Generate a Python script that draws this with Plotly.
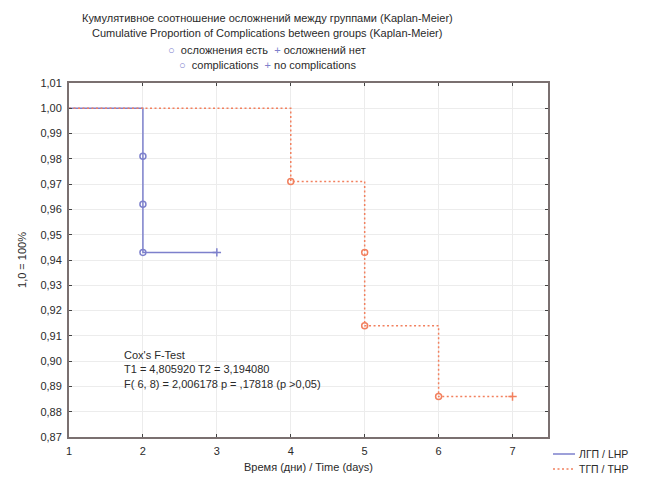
import plotly.graph_objects as go

# Data
lhp_time = [1, 2, 2, 2, 3]
lhp_surv = [1.0, 0.981, 0.962, 0.943, 0.943]
lhp_event_time = [2, 2, 2]
lhp_event_surv = [0.981, 0.962, 0.943]
lhp_cens_time = [3]
lhp_cens_surv = [0.943]

thp_time = [1, 4, 5, 5, 6, 7]
thp_surv = [1.0, 0.971, 0.943, 0.914, 0.886, 0.886]
thp_event_time = [4, 5, 5, 6]
thp_event_surv = [0.971, 0.943, 0.914, 0.886]
thp_cens_time = [7]
thp_cens_surv = [0.886]

x_ticks = [1, 2, 3, 4, 5, 6, 7]
y_ticks = [0.87, 0.88, 0.89, 0.90, 0.91, 0.92, 0.93, 0.94, 0.95, 0.96, 0.97, 0.98, 0.99, 1.00, 1.01]
series_names = ["ЛГП / LHP", "ТГП / THP"]

BLUE = "#7d80cc"
ORANGE = "#f2805e"
TXT = "#2a2a2a"
FONT = "Liberation Sans, Arial, sans-serif"
DOT = "2px,2.5px"

W, H = 646, 479
pl, pr, pt, pb = 69, 98, 83, 42
pw, ph = W - pl - pr, H - pt - pb

def px_x(px):
    return (px - pl) / pw

def px_y(py):
    return 1 - (py - pt) / ph

fig = go.Figure()
fig.add_trace(go.Scatter(x=lhp_time, y=lhp_surv, mode="lines", line_shape="hv",
                         line=dict(color=BLUE, width=1.5), name=series_names[0], showlegend=False))
fig.add_trace(go.Scatter(x=thp_time, y=thp_surv, mode="lines", line_shape="hv",
                         line=dict(color=ORANGE, width=1.5, dash=DOT), name=series_names[1], showlegend=False))
fig.add_trace(go.Scatter(x=lhp_event_time, y=lhp_event_surv, mode="markers", showlegend=False,
                         marker=dict(symbol="circle-open", size=6, color=BLUE, line=dict(width=1.5))))
fig.add_trace(go.Scatter(x=lhp_cens_time, y=lhp_cens_surv, mode="markers", showlegend=False,
                         marker=dict(symbol="cross-thin-open", size=6, color=BLUE, line=dict(width=1.5, color=BLUE))))
fig.add_trace(go.Scatter(x=thp_event_time, y=thp_event_surv, mode="markers", showlegend=False,
                         marker=dict(symbol="circle-open", size=6, color=ORANGE, line=dict(width=1.5))))
fig.add_trace(go.Scatter(x=thp_cens_time, y=thp_cens_surv, mode="markers", showlegend=False,
                         marker=dict(symbol="cross-thin-open", size=6, color=ORANGE, line=dict(width=1.5, color=ORANGE))))

axis_common = dict(showline=True, linecolor="#7a7070", linewidth=2, mirror="ticks",
                   ticks="inside", ticklen=3, tickcolor="#444", showgrid=True,
                   gridcolor="#ececec", gridwidth=1, zeroline=False, automargin=False,
                   ticklabelstandoff=3,
                   tickfont=dict(family=FONT, size=11, color=TXT))

fig.update_xaxes(range=[1, 7.48], tickvals=x_ticks, **axis_common,
                 title=dict(text="Время (дни) / Time (days)", font=dict(family=FONT, size=11, color=TXT), standoff=7))
fig.update_yaxes(range=[0.87, 1.01], tickvals=y_ticks, tickformat=".2f", **axis_common,
                 title=dict(text="1,0 = 100%", font=dict(family=FONT, size=11, color=TXT), standoff=12))

fig.add_annotation(x=1.72, y=0.9055, xref="x", yref="y", xanchor="left", yanchor="top",
                   align="left", showarrow=False,
                   text="Cox's F-Test<br>T1 = 4,805920 T2 = 3,194080<br>F( 6, 8) = 2,006178 p = ,17818 (p >0,05)",
                   font=dict(family=FONT, size=11, color=TXT))

titles = [
    ("Кумулятивное соотношение осложнений между группами (Kaplan-Meier)", 18),
    ("Cumulative Proportion of Complications between groups (Kaplan-Meier)", 33),
    (f"<span style='color:{BLUE}'>○</span>  осложнения есть  <span style='color:{BLUE}'>+</span> осложнений нет", 50),
    (f"<span style='color:{BLUE}'>○</span>  complications  <span style='color:{BLUE}'>+</span> no complications", 65),
]
for txt, ypx in titles:
    fig.add_annotation(x=px_x(267), y=px_y(ypx), xref="paper", yref="paper",
                       xanchor="center", yanchor="middle", showarrow=False,
                       text=txt, font=dict(family=FONT, size=11, color=TXT))

# manual legend (bottom right)
leg = [(series_names[0], BLUE, "solid", 454), (series_names[1], ORANGE, DOT, 469)]
for name, col, dash, ypx in leg:
    fig.add_shape(type="line", xref="paper", yref="paper",
                  x0=px_x(553), x1=px_x(575), y0=px_y(ypx), y1=px_y(ypx),
                  line=dict(color=col, width=1.5, dash=dash))
    fig.add_annotation(x=px_x(578), y=px_y(ypx), xref="paper", yref="paper",
                       xanchor="left", yanchor="middle", showarrow=False, borderpad=0,
                       text=name, font=dict(family=FONT, size=10.5, color=TXT))

fig.update_layout(
    width=W, height=H,
    margin=dict(l=pl, r=pr, t=pt, b=pb),
    paper_bgcolor="white", plot_bgcolor="white",
    separators=", ",
    font=dict(family=FONT, size=11, color=TXT),
    showlegend=False,
)

fig.write_html("out.html", config={"displayModeBar": False},
               post_script="document.body.style.margin='0';")
